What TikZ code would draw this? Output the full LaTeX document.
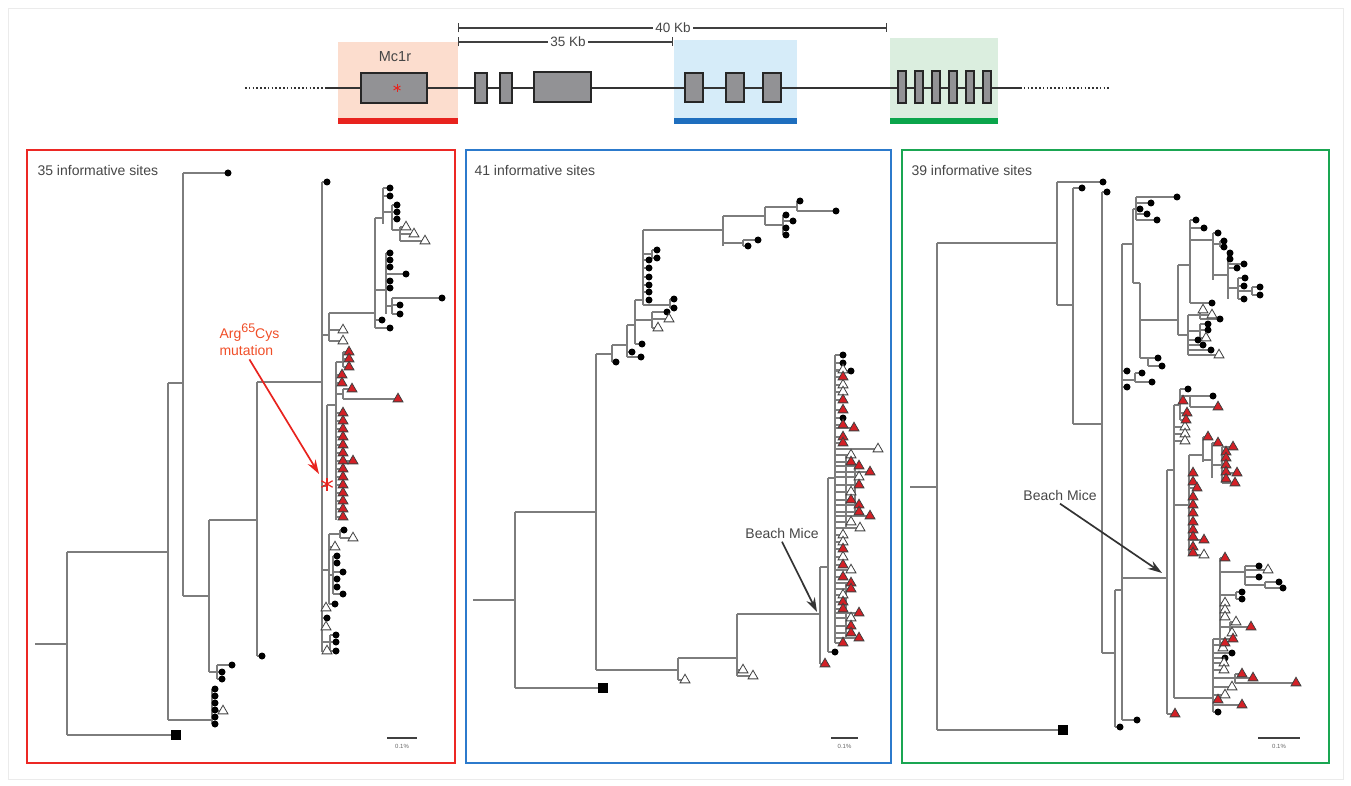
\documentclass[tikz,border=0pt]{standalone}
\usepackage{fontspec}
\setmainfont{Liberation Sans}
\usepackage{tikz}
\usetikzlibrary{arrows.meta,positioning,shapes.geometric}
\definecolor{treegray}{RGB}{125,125,125}
\definecolor{tred}{RGB}{212,32,38}
\definecolor{pred}{RGB}{236,40,36}
\definecolor{pblue}{RGB}{44,122,204}
\definecolor{pgreen}{RGB}{26,166,82}
\definecolor{bred}{RGB}{232,35,30}
\definecolor{bblue}{RGB}{30,110,190}
\definecolor{bgreen}{RGB}{10,165,75}
\definecolor{shred}{RGB}{252,221,206}
\definecolor{shblue}{RGB}{214,236,249}
\definecolor{shgreen}{RGB}{219,238,223}
\definecolor{exgray}{RGB}{146,146,149}
\definecolor{txtgray}{RGB}{70,70,70}
\definecolor{mutred}{RGB}{240,78,40}
\tikzset{
  br/.style={draw=treegray, line width=1.2pt},
  tipdot/.style={circle, fill=black, inner sep=0pt, minimum size=7pt},
  tipw/.style={regular polygon, regular polygon sides=3, draw=black!75, fill=white,
               line width=0.8pt, inner sep=0pt, minimum size=11.5pt},
  tipr/.style={tipw, fill=tred},
  outsq/.style={rectangle, fill=black, inner sep=0pt, minimum size=10.5pt},
  pan/.style={line width=2.6pt},
  exon/.style={draw=black!85, fill=exgray, line width=2pt, inner sep=0pt},
  gline/.style={draw=black!80, line width=1.9pt},
  gdots/.style={draw=black!80, line width=1.9pt, dash pattern=on 1.6pt off 2.2pt},
  kbbar/.style={{Bar[width=9pt]}-{Bar[width=9pt]}, line width=1.2pt, draw=black!75},
  kblbl/.style={fill=white, inner sep=2pt, text=txtgray, font=\fontsize{13.5}{15}\selectfont},
  sitelbl/.style={anchor=west, text=txtgray, font=\fontsize{14}{16}\selectfont},
  bmlbl/.style={text=txtgray, font=\fontsize{14}{16}\selectfont},
  bmarr/.style={-{Stealth[length=5mm, width=3.2mm]}, line width=1.7pt, draw=black!80},
  mutarr/.style={-{Stealth[length=5mm, width=3.2mm]}, line width=1.7pt, draw=bred},
  astk/.style={draw=bred, line width=1.2pt},
  sclbar/.style={draw=black!75, line width=1.2pt},
  scllbl/.style={text=black!60, font=\fontsize{6}{7}\selectfont},
}
\newcommand{\cladebr}[4]{%
  \draw[br] (#1,#2) -- (#1,#3);
  \foreach \cx/\cy in {#4} {\draw[br] (#1,\cy) -- (\cx,\cy);}}

\begin{document}
\begin{tikzpicture}[x=1pt, y=-1pt]
    \useasboundingbox (0,0) rectangle (1351,786);
    \draw[black!8, line width=0.8pt] (8,8) rectangle (1343,779);

    % gene map
    \fill[shred] (338,42) rectangle (458,118);
    \fill[bred] (338,118) rectangle (458,124);
    \fill[shblue] (674,40) rectangle (797,118);
    \fill[bblue] (674,118) rectangle (797,124);
    \fill[shgreen] (890,38) rectangle (998,118);
    \fill[bgreen] (890,118) rectangle (998,124);
    \draw[gdots] (245,88) -- (325,88);
    \draw[gline] (325,88) -- (1020,88);
    \draw[gdots] (1020,88) -- (1110,88);
    \node[exon, minimum width=66pt, minimum height=30pt] (mcr) at (394,88) {};
    \node[text=txtgray, font=\fontsize{14.5}{16}\selectfont] (mcrlbl) at (395,57) {Mc1r};
    \foreach \a in {90,30,150} \draw[astk, line width=0.9pt] (mcr.center) ++(3,0) ++(\a:4) -- ++(\a+180:8);
    \node[exon, minimum width=12pt, minimum height=30pt] (ex2) at (481,88) {};
    \node[exon, minimum width=12pt, minimum height=30pt] (ex3) at (506,88) {};
    \node[exon, minimum width=57pt, minimum height=30pt] (ex4) at (562,87) {};
    \foreach \x [count=\n] in {694,735,772}
      \node[exon, minimum width=18pt, minimum height=29pt] (bex\n) at (\x,88) {};
    \foreach \x [count=\n] in {902,919,936,953,970,987}
      \node[exon, minimum width=8pt, minimum height=32pt] (gex\n) at (\x,87) {};
    \coordinate (kbl) at (458,28);
    \coordinate (kbr) at (887,28);
    \coordinate (kbm) at (673,42);
    \draw[kbbar] (kbl) -- (kbr);
    \draw[kbbar] (kbl |- kbm) -- (kbm);
    \node[kblbl] (kb40) at (673,28) {40 Kb};
    \node[kblbl] (kb35) at (568,42) {35 Kb};

    % panels
    \draw[pan, draw=pred] (27,150) rectangle (455,763);
    \draw[pan, draw=pblue] (466,150) rectangle (891,763);
    \draw[pan, draw=pgreen] (902,150) rectangle (1329,763);
    \node[sitelbl] (sites35) at (34,170) {35 informative sites};
    \node[sitelbl] (sites41) at (471,170) {41 informative sites};
    \node[sitelbl] (sites39) at (908,170) {39 informative sites};
    \foreach \xa/\xb/\nm in {387/417/r, 831/858/b, 1258/1300/g} {
      \draw[sclbar] (\xa,738) -- (\xb,738);
      \node[scllbl] (scl\nm) at ({(\xa+\xb)/2},746) {0.1\%};
    }

    % red tree
    \draw[br] (35,644) -- (67,644);
    \cladebr{67}{552}{735}{176/735,168/552}
    \cladebr{168}{383}{720}{212/720,183/383}
    \cladebr{212}{689}{724}{223/711}
    \cladebr{183}{173}{596}{228/173,209/596}
    \cladebr{209}{520}{672}{257/520,217/672}
    \cladebr{217}{665}{679}{232/665,222/672,222/679}
    \cladebr{257}{382}{656}{322/382,262/656}
    \cladebr{322}{182}{652}{327/182,329/335,327/486,329/570,326/608,327/618,326/627,330/642}
    \cladebr{329}{313}{341}{375/313,343/330,343/341}
    \cladebr{375}{218}{328}{383/218,386/290,382/320,390/328}
    \cladebr{383}{188}{224}{390/188,390/196,392/212}
    \cladebr{392}{205}{230}{397/205,397/212,397/219,400/230}
    \cladebr{400}{227}{241}{406/227,414/234,425/241}
    \cladebr{386}{253}{314}{390/253,390/260,390/267,406/274,390/281,390/288,392/306}
    \cladebr{392}{298}{314}{442/298,400/305,400/314}
    \cladebr{327}{405}{486}{336/405}
    \cladebr{336}{362}{520}{343/362,342/375,342/383,343/394,353/461}
    \foreach \y in {413,421,...,517} \draw[br] (336,\y) -- (343,\y);
    \cladebr{343}{352}{367}{349/352,349/359,349/367}
    \cladebr{343}{389}{399}{352/389,398/399}
    \cladebr{329}{534}{604}{340/534,335/547,333/575,335/604}
    \cladebr{340}{530}{538}{344/530,353/538}
    \cladebr{333}{556}{594}{337/556,337/563,343/572,337/579,337/587,343/594}
    \cladebr{330}{635}{651}{336/635,336/642,336/651}
    \node[outsq] (rsq) at (176,735) {};
    \foreach \x/\y [count=\n] in {228/173,327/182,262/656,232/665,222/672,222/679,
        215/689,215/696,215/703,215/710,215/717,215/724,390/188,390/196,397/205,397/212,
        397/219,390/253,390/260,390/267,406/274,390/281,390/288,442/298,400/305,400/314,
        382/320,390/328,344/530,337/556,337/563,343/572,337/579,337/587,343/594,335/604,
        327/618,336/635,336/642,336/651}
      \node[tipdot] (rd\n) at (\x,\y) {};
    \foreach \x/\y [count=\n] in {223/711,406/227,414/234,425/241,343/330,343/341,
        353/538,335/547,326/608,326/627,327/651}
      \node[tipw] (rw\n) at (\x,\y) {};
    \foreach \x/\y [count=\n] in {349/352,349/359,349/367,342/375,342/383,352/389,
        398/399,353/461}
      \node[tipr] (rr\n) at (\x,\y) {};
    \foreach \y [count=\n] in {413,421,...,517}
      \node[tipr] (rc\n) at (343,\y) {};
    \node[text=mutred, align=left, anchor=west, font=\fontsize{14}{17}\selectfont]
      (mutlbl) at (216,340) {Arg\raisebox{0.42em}{\fontsize{12.5}{13}\selectfont 65}Cys\\mutation};
    \coordinate (mutpt) at (319,474);
    \draw[mutarr] (mutlbl.south) -- (mutpt);
    \coordinate (mutast) at (327,484);
    \foreach \a in {90,30,150} \draw[astk] (mutast) ++(\a:6.5) -- ++(\a+180:13);

    % blue tree
    \draw[br] (473,600) -- (515,600);
    \cladebr{515}{512}{688}{603/688,596/512}
    \cladebr{596}{354}{670}{612/354,678/670}
    \cladebr{678}{658}{680}{737/658,685/680}
    \cladebr{737}{614}{676}{743/670,753/676,820/614}
    \cladebr{820}{567}{664}{828/567,825/664}
    \cladebr{828}{478}{652}{835/478,835/652}
    \cladebr{612}{345}{362}{616/362,627/345}
    \cladebr{627}{325}{357}{635/325,632/352,641/357}
    \cladebr{635}{300}{344}{643/300,652/320,642/344}
    \cladebr{643}{230}{305}{723/230,652/254,649/260,649/268,649/277,649/285,649/292,670/305}
    \cladebr{652}{250}{258}{657/250,657/258}
    \cladebr{670}{299}{308}{674/299,674/308}
    \cladebr{652}{312}{328}{667/312,669/319,658/328}
    \cladebr{723}{216}{246}{765/216,743/243}
    \cladebr{743}{240}{246}{748/246,758/240}
    \cladebr{765}{207}{225}{797/207,783/225}
    \cladebr{797}{201}{211}{800/201,836/211}
    \cladebr{783}{215}{235}{786/215,793/221,786/228,786/235}
    \draw[br] (835,355) -- (835,643);
    \draw[br] (846,455) -- (846,528);
    \draw[br] (855,466) -- (855,516);
    \draw[br] (846,583) -- (846,638);
    \foreach \x/\y in {843/355,843/363,851/371,843/418,843/370,843/385,843/392,878/449,
        851/455,859/477,851/492,851/522,860/528,843/535,843/542,843/557,851/570,843/595,
        851/618,843/377,843/400,843/410,843/425,854/428,843/437,843/443,851/462,859/466,
        870/472,859/485,851/500,859/505,859/512,870/516,843/549,843/565,843/577,851/583,
        851/589,843/602,843/609,859/613,851/626,851/633,859/638,843/643}
      \draw[br] (835,\y) -- (\x,\y);
    \node[outsq] (bsq) at (603,688) {};
    \foreach \x/\y [count=\n] in {616/362,632/352,641/357,642/344,649/260,649/268,649/277,
        649/285,649/292,649/300,657/250,657/258,674/299,674/308,667/312,748/246,758/240,
        800/201,836/211,786/215,793/221,786/228,786/235,835/652,843/355,843/363,851/371,
        843/418}
      \node[tipdot] (bd\n) at (\x,\y) {};
    \foreach \x/\y [count=\n] in {685/680,743/670,753/676,669/319,658/328,843/370,843/385,
        843/392,878/449,851/455,859/477,851/492,851/522,860/528,843/535,843/542,843/557,
        851/570,843/595,851/618}
      \node[tipw] (bw\n) at (\x,\y) {};
    \foreach \x/\y [count=\n] in {825/664,843/377,843/400,843/410,843/425,854/428,843/437,
        843/443,851/462,859/466,870/472,859/485,851/500,859/505,859/512,870/516,843/549,
        843/565,843/577,851/583,851/589,843/602,843/609,859/613,851/626,851/633,859/638,
        843/643}
      \node[tipr] (br\n) at (\x,\y) {};
    \node[bmlbl] (bmblue) at (782,533) {Beach Mice};
    \coordinate (bmbpt) at (817,612);
    \draw[bmarr] (bmblue.south) -- (bmbpt);

    % green tree
    \draw[br] (910,487) -- (937,487);
    \cladebr{937}{243}{730}{1063/730,1057/243}
    \cladebr{1057}{182}{305}{1103/182,1073/305}
    \cladebr{1073}{188}{424}{1082/188,1102/424}
    \cladebr{1102}{192}{653}{1107/192,1115/653}
    \cladebr{1115}{590}{727}{1122/590,1120/727}
    \cladebr{1122}{244}{720}{1133/244,1127/371,1135/380,1127/387,1167/578,1137/720}
    \cladebr{1135}{373}{382}{1142/373,1152/382}
    \cladebr{1133}{209}{283}{1136/209,1140/283}
    \cladebr{1136}{197}{220}{1177/197,1151/203,1140/209,1147/214,1157/220}
    \cladebr{1140}{283}{358}{1148/358,1178/320}
    \cladebr{1148}{358}{366}{1158/358,1162/366}
    \cladebr{1178}{265}{335}{1190/265,1188/335}
    \cladebr{1190}{220}{303}{1196/220,1204/228,1213/240,1212/303}
    \cladebr{1213}{233}{280}{1218/233,1220/244,1228/275}
    \cladebr{1220}{241}{247}{1224/241,1224/247}
    \cladebr{1228}{253}{299}{1230/253,1230/259,1244/264,1237/268,1238/288}
    \cladebr{1238}{278}{299}{1245/278,1244/286,1252/291,1244/299}
    \cladebr{1252}{287}{295}{1260/287,1260/295}
    \cladebr{1188}{315}{355}{1200/315,1200/331,1198/340,1203/345,1211/350,1219/355}
    \cladebr{1200}{310}{319}{1203/310,1212/315,1220/319}
    \cladebr{1200}{324}{338}{1208/324,1208/330,1206/338}
    \cladebr{1167}{470}{714}{1175/714,1174/470}
    \cladebr{1174}{405}{698}{1180/405,1185/427,1185/434,1185/441,1189/505,1213/698}
    \cladebr{1180}{389}{420}{1188/389,1183/401,1190/396,1187/413,1186/420}
    \cladebr{1190}{396}{407}{1213/396,1218/407}
    \cladebr{1189}{455}{555}{1203/455,1193/473,1193/482,1197/488,1193/497,1193/505,
        1193/513,1193/522,1193/530,1193/537,1204/540,1193/547,1193/553,1204/555}
    \cladebr{1203}{437}{462}{1208/437,1212/460}
    \cladebr{1212}{443}{478}{1218/443,1222/465}
    \cladebr{1222}{447}{483}{1233/447,1226/452,1226/458,1226/465,1226/472,1226/479,
        1237/473,1235/483}
    \cladebr{1213}{639}{712}{1233/639,1220/645,1232/653,1225/658,1224/663,1224/670,
        1235/678,1232/687,1225/695,1218/700,1242/705,1218/712}
    \cladebr{1220}{558}{648}{1225/558,1245/572,1236/595,1225/603,1225/610,1225/617,
        1230/627,1225/643,1223/648}
    \cladebr{1245}{566}{585}{1259/566,1268/570,1259/577,1265/585}
    \cladebr{1265}{582}{588}{1279/582,1283/588}
    \cladebr{1236}{592}{599}{1242/592,1242/599}
    \cladebr{1230}{622}{633}{1236/622,1251/627,1232/633}
    \cladebr{1235}{674}{683}{1242/674,1253/678,1296/683}
    \node[outsq] (gsq) at (1063,730) {};
    \foreach \x/\y [count=\n] in {1103/182,1082/188,1107/192,1177/197,1151/203,1140/209,
        1147/214,1157/220,1127/371,1127/387,1142/373,1152/382,1158/358,1162/366,1196/220,
        1204/228,1218/233,1224/241,1224/247,1230/253,1230/259,1237/268,1244/264,1245/278,
        1244/286,1260/287,1260/295,1244/299,1212/303,1220/319,1208/324,1208/330,1198/340,
        1203/345,1211/350,1120/727,1137/720,1188/389,1213/396,1259/566,1259/577,1279/582,
        1283/588,1242/592,1242/599,1232/653,1225/658,1218/712}
      \node[tipdot] (gd\n) at (\x,\y) {};
    \foreach \x/\y [count=\n] in {1203/310,1212/315,1206/338,1219/355,1185/427,1185/434,
        1185/441,1204/555,1268/570,1225/603,1225/610,1225/617,1236/622,1232/633,1223/648,
        1224/663,1224/670,1232/687,1225/695}
      \node[tipw] (gw\n) at (\x,\y) {};
    \foreach \x/\y [count=\n] in {1175/714,1183/401,1187/413,1186/420,1218/407,1208/437,
        1218/443,1233/447,1226/452,1226/458,1226/465,1226/472,1226/479,1237/473,1235/483,
        1193/473,1193/482,1197/488,1193/497,1193/505,1193/513,1193/522,1193/530,1193/537,
        1204/540,1193/547,1193/553,1225/558,1251/627,1233/639,1225/643,1242/674,1253/678,
        1296/683,1218/700,1242/705}
      \node[tipr] (gr\n) at (\x,\y) {};
    \node[bmlbl] (bmgreen) at (1060,495) {Beach Mice};
    \coordinate (bmgpt) at (1162,573);
    \draw[bmarr] (bmgreen.south) -- (bmgpt);
\end{tikzpicture}
\end{document}
